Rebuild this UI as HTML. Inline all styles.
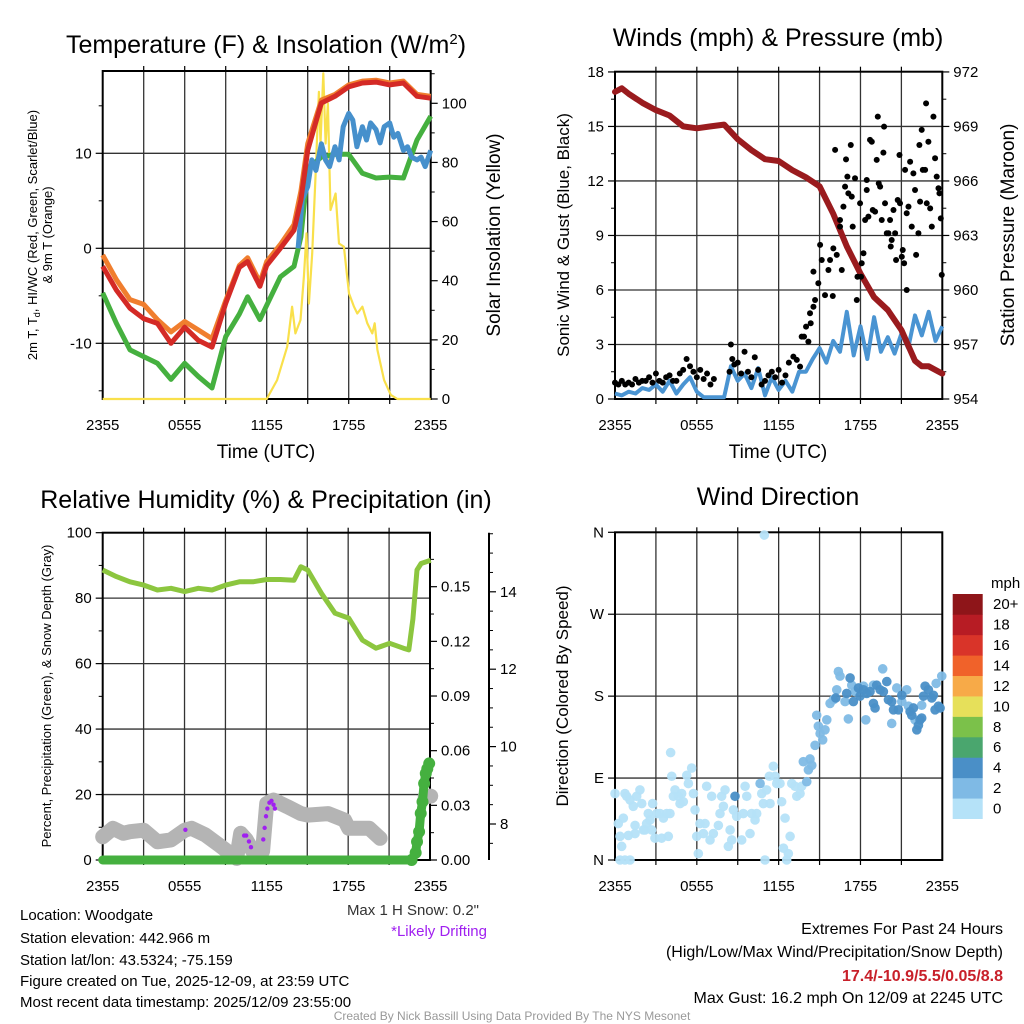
<!DOCTYPE html>
<html><head><meta charset="utf-8"><style>
html,body{margin:0;padding:0;background:#fff;}
svg{display:block;font-family:"Liberation Sans",Arial,sans-serif;}
</style></head><body>
<svg id="chart" width="1024" height="1024" viewBox="0 0 1024 1024" xmlns="http://www.w3.org/2000/svg">
<rect width="1024" height="1024" fill="#fff"/>
<text x="266" y="53" font-size="25" text-anchor="middle">Temperature (F) &amp; Insolation (W/m<tspan dy="-9" font-size="15">2</tspan><tspan dy="9">)</tspan></text>
<text x="778" y="46" font-size="25" text-anchor="middle">Winds (mph) &amp; Pressure (mb)</text>
<text x="266" y="508" font-size="25" text-anchor="middle">Relative Humidity (%) &amp; Precipitation (in)</text>
<text x="778" y="505" font-size="25" text-anchor="middle">Wind Direction</text>
<text x="266" y="458" font-size="19" text-anchor="middle">Time (UTC)</text>
<text x="778" y="458" font-size="19" text-anchor="middle">Time (UTC)</text>
<text transform="translate(37,235) rotate(-90)" font-size="13" text-anchor="middle">2m T, T<tspan font-size="9" dy="3">d</tspan><tspan dy="-3">, HI/WC (Red, Green, Scarlet/Blue)</tspan></text>
<text transform="translate(52,235) rotate(-90)" font-size="13" text-anchor="middle">&amp; 9m T (Orange)</text>
<text transform="translate(500,235) rotate(-90)" font-size="19" text-anchor="middle">Solar Insolation (Yellow)</text>
<text transform="translate(569,235) rotate(-90)" font-size="17" text-anchor="middle">Sonic Wind &amp; Gust (Blue, Black)</text>
<text transform="translate(1014,235) rotate(-90)" font-size="19" text-anchor="middle">Station Pressure (Maroon)</text>
<text transform="translate(51,696) rotate(-90)" font-size="13" text-anchor="middle">Percent, Precipitation (Green), &amp; Snow Depth (Gray)</text>
<text transform="translate(568,696) rotate(-90)" font-size="17" text-anchor="middle">Direction (Colored By Speed)</text>
<text x="479" y="915" font-size="15" fill="#333" text-anchor="end">Max 1 H Snow: 0.2"</text>
<text x="487" y="936" font-size="15" fill="#a020f0" text-anchor="end">*Likely Drifting</text>
<g font-size="15">
<text x="20" y="920">Location: Woodgate</text>
<text x="20" y="943">Station elevation: 442.966 m</text>
<text x="20" y="965">Station lat/lon: 43.5324; -75.159</text>
<text x="20" y="986">Figure created on Tue, 2025-12-09, at 23:59 UTC</text>
<text x="20" y="1007">Most recent data timestamp: 2025/12/09 23:55:00</text>
</g>
<g font-size="16" text-anchor="end">
<text x="1003" y="934">Extremes For Past 24 Hours</text>
<text x="1003" y="957">(High/Low/Max Wind/Precipitation/Snow Depth)</text>
<text x="1003" y="981" fill="#c8202a" font-weight="bold">17.4/-10.9/5.5/0.05/8.8</text>
<text x="1003" y="1003">Max Gust: 16.2 mph On 12/09 at 2245 UTC</text>
</g>
<text x="512" y="1020" font-size="12" fill="#999" text-anchor="middle">Created By Nick Bassill Using Data Provided By The NYS Mesonet</text>
<text x="991" y="588" font-size="15">mph</text>
<g id="layer"></g>
</svg>
<script>
// ---------- data ----------
const xTickHours=[0,6,12,18,24];
const xTickLabels=["2355","0555","1155","1755","2355"];
const tempHours=[0,1,2,3,4,5,6,7,8,9,10,10.6,11.5,12,13,14,14.5,15,15.5,16,17,18,19,20,21,22,23,24];
const tempRed=[-1.9,-4.4,-6.3,-7.4,-7.9,-10.0,-8.3,-9.7,-10.4,-5.8,-2.0,-1.4,-4.0,-1.8,0.0,1.9,5.1,10.3,12.8,15.3,16.0,17.0,17.4,17.5,17.2,17.4,16.0,15.8];
const tempOrange=[-0.7,-3.3,-5.4,-5.9,-7.5,-8.8,-7.7,-8.6,-9.5,-5.5,-1.8,-1.0,-3.6,-1.4,0.4,2.5,6.0,11.0,13.3,15.6,16.2,17.2,17.6,17.7,17.4,17.6,16.2,16.0];
const tempGreen=[-4.7,-7.9,-10.7,-11.4,-12.1,-13.8,-12.1,-13.5,-14.7,-9.3,-6.9,-5.1,-7.5,-6.0,-3.0,-1.9,1.2,8.2,9.0,9.6,9.9,9.9,7.9,7.4,7.5,7.4,11.4,13.9];
const wcHours=[14.3,14.6,15,15.3,15.6,16,16.3,16.6,17,17.3,17.6,18,18.3,18.6,19,19.3,19.6,20,20.3,20.6,21,21.3,21.6,22,22.3,22.6,23,23.3,23.6,24];
const wcBlue=[0.0,5.1,6.5,9.3,8.2,11.0,9.3,8.6,10.7,9.3,12.8,14.2,13.5,10.7,12.8,11.4,13.2,12.5,11.1,12.8,13.2,11.7,12.1,10.3,10.7,9.6,9.3,9.6,8.6,10.3];
const solarHours=[0,12.0,12.76,13.5,13.86,14.1,14.47,14.72,14.91,15.09,15.33,15.57,15.82,15.94,16.14,16.31,16.48,16.67,17.04,17.29,17.65,18.02,18.39,18.63,19.0,19.36,19.73,19.9,20.1,20.59,21.08,21.56,24];
const solarValues=[0,0,6.4,17.7,31.2,22.2,26.7,41.4,56,32.3,49.2,75.2,103.9,86.4,110.1,86.4,99.9,63.9,69.5,52.6,51.5,35.7,31.2,28.9,31.2,25.6,22.2,25.6,16.6,6.4,1.4,0,0];

const presHours=[0,0.5,1,2,3,4,5,6,7,8,9,10,11,12,13,14,15,16,17,18,19,20,21,22,22.5,23,24];
const presValues=[970.9,971.1,970.8,970.3,969.9,969.6,969.0,968.9,969.0,969.1,968.3,967.7,967.2,967.1,966.6,966.2,965.7,964.2,962.4,960.9,959.6,958.9,957.8,956.1,955.8,955.8,955.4];
const sonicHours=[0,0.5,1,1.5,2,2.5,3,3.5,4,4.5,5,5.5,6,6.5,7,7.5,8,8.5,9,9.5,10,10.5,11,11.5,12,12.5,13,13.5,14,14.5,15,15.5,16,16.5,17,17.5,18,18.5,19,19.5,20,20.5,21,21.5,22,22.5,23,23.5,24];
const sonicValues=[0.3,0.2,0.4,0.3,0.6,0.5,0.8,0.4,1.0,0.3,0.8,1.2,0.4,0.1,0.1,0.1,0.1,1.8,1.0,1.4,0.6,1.7,0.2,1.2,0.5,1.0,0.4,1.5,1.5,2.2,2.8,2.0,3.2,2.6,4.8,2.4,4.0,2.2,4.5,2.6,3.4,2.5,3.6,2.8,4.6,3.5,4.8,3.2,4.0];
const gustHours=[0,0.25,0.5,0.75,1,1.25,1.5,1.75,2,2.25,2.5,2.75,3,3.25,3.5,3.75,4,4.25,4.5,4.75,5,5.25,5.5,5.75,6,6.25,6.5,6.75,7,7.25,8.4,8.5,8.6,8.75,9,9.25,9.5,9.75,10,10.25,10.5,10.75,11,11.25,11.5,11.75,12,12.25,12.5,12.75,
13.08,13.33,13.57,13.69,13.86,14.01,14.18,14.30,14.35,14.55,14.67,14.55,14.91,15.04,15.16,15.40,15.65,15.77,15.97,16.01,16.14,16.26,16.50,16.50,16.63,16.75,16.87,16.94,17.04,17.11,17.29,17.36,17.43,17.60,17.73,17.78,17.97,18.04,18.09,18.22,18.34,18.46,18.46,18.58,18.70,18.83,18.90,19.07,19.19,19.27,19.34,19.44,19.56,19.68,19.73,19.80,19.93,20.05,20.17,20.22,20.29,20.42,20.54,20.61,20.73,20.86,20.90,21.03,21.10,21.20,21.27,21.39,21.39,21.52,21.64,21.76,21.88,22.00,22.08,22.25,22.32,22.37,22.49,22.57,22.74,22.81,22.86,22.98,23.11,23.23,23.35,23.47,23.59,23.72,23.79,23.89,23.96];
const gustValues=[0.9,0.8,1.0,0.8,0.9,0.8,1.1,0.9,1.0,1.0,1.2,0.9,1.4,1.0,0.9,1.2,1.3,1.0,1.0,1.4,1.6,2.2,1.8,1.5,1.2,1.6,1.1,1.4,0.8,1.1,1.5,3.0,2.2,1.9,2.0,1.4,2.6,1.5,1.2,2.3,1.6,0.8,1.0,1.3,1.5,1.2,1.6,0.9,1.3,2.0,
2.33,2.15,1.78,3.43,3.43,3.98,3.16,4.72,4.17,5.08,5.45,7.01,6.37,8.48,7.65,5.72,7.10,7.65,5.67,8.29,13.71,7.93,9.85,9.49,7.10,10.59,11.69,13.19,12.24,11.32,13.98,11.14,9.49,12.15,5.45,6.73,10.77,6.73,7.47,8.02,9.85,11.50,12.05,10.04,14.26,14.16,10.40,10.31,13.16,15.54,11.87,11.69,9.85,13.56,14.99,10.77,9.12,9.12,9.85,8.39,8.75,10.40,9.12,7.65,10.95,13.43,10.77,7.83,8.20,7.47,12.61,6.00,10.22,10.59,13.06,9.49,12.42,11.50,7.93,9.12,13.98,10.86,14.81,12.61,12.61,16.27,10.77,14.16,10.49,9.49,15.54,13.25,12.24,11.60,11.32,9.94,6.83];

const rhHours=[0,1,2,3,4,5,6,7,8,9,10,11,12,13,14,14.5,15,16,17,18,19,20,21,22,22.4,22.7,23,23.3,24];
const rhValues=[88.6,86.6,85.0,84.0,82.5,83.0,82.0,83.0,82.5,84.0,85.0,85.0,85.7,85.7,85.5,89.6,88.6,81.5,75.4,73.9,67.2,64.7,66.2,64.7,64.2,73.6,88.6,90.6,91.6];
const snowHours=[0,0.75,1.5,2,3,4,5,6,6.5,7.5,8.5,9.8,10.1,10.5,11,11.7,12,12.5,13.5,14.5,15,16.5,17.7,18,19.5,20.3,null,23.6,24];
const snowValues=[7.67,7.89,7.76,7.8,7.84,7.54,7.59,7.84,7.89,7.72,7.46,7.11,7.76,7.6,7.29,7.3,8.53,8.62,8.45,8.27,8.23,8.27,8.1,7.89,7.89,7.63,null,8.7,8.72];
const driftHours=[6.05,10.35,10.5,10.7,10.85,11.75,11.85,11.95,12.05,12.2,12.35,12.5,12.6];
const driftValues=[7.85,7.7,7.7,7.55,7.4,7.6,7.9,8.2,8.4,8.55,8.6,8.5,8.4];
const precipHours=[0,2,4,6,8,10,12,14,16,18,20,22,22.6,22.9,23.0,23.15,23.27,23.4,23.52,23.64,23.75,23.89];
const precipValues=[0,0,0,0,0,0,0,0,0,0,0,0,0,0.004,0.01,0.0155,0.0256,0.032,0.042,0.0475,0.05,0.053];

const dirHours=[0,.24,.37,.49,.61,.73,.86,.98,1.1,1.34,1.47,1.47,1.59,1.83,1.96,2.08,2.2,2.32,2.44,2.57,2.69,2.76,2.93,3.06,3.3,3.42,3.55,3.79,3.91,4.03,4.08,4.16,4.28,4.4,4.65,4.77,4.89,5.01,5.26,5.38,5.62,5.75,5.87,5.99,6.11,6.23,6.48,6.6,6.72,6.97,7.09,7.21,7.58,7.7,7.82,7.95,8.07,8.31,8.44,8.56,8.68,8.92,9.29,9.41,9.54,9.66,9.9,10.02,10.27,10.39,10.76,10.88,11,11.12,11.32,11.37,11.61,11.74,11.86,12.1,12.22,12.35,12.47,12.59,12.71,12.84,12.96,13.2,13.33,13.57,13.69,.37,.73,1.1,10.95,
10.64,13.81,14.06,14.18,14.3,14.43,14.67,14.79,14.91,15.04,15.23,15.4,15.53,15.77,16.01,16.26,16.38,16.5,16.87,17.11,17.36,17.6,18.22,18.39,18.95,19.63,20.29,20.66,21.03,21.39,21.52,22.0,22.49,23.55,23.96,
8.8,16.19,16.99,17.24,17.48,17.85,17.97,18.22,18.46,18.7,18.95,19.07,19.19,19.44,19.68,19.93,20.05,20.29,20.42,20.78,21.03,21.64,21.76,21.88,22.13,22.25,22.37,22.49,22.62,22.74,22.98,23.23,23.35,23.47,23.72,23.84];
const dirDegrees=[73,40,26,15,46,73,70,27,66,59,38,29,70,77,62,33,33,40,51,44,33,62,24,51,51,24,46,51,26,51,118,92,70,77,70,62,73,64,93,84,101,73,55,26,7,40,29,40,81,22,70,29,38,51,70,59,77,15,33,22,55,48,22,51,81,70,29,51,44,51,73,62,0,77,92,62,103,92,84,84,64,13,46,0,7,26,84,81,70,73,81,0,0,0,357,
84,108,86,99,111,104,126,159,147,139,132,143,154,172,176,187,207,202,174,155,192,185,191,154,192,210,150,189,174,187,169,154,170,194,202,
70,178,183,200,174,189,180,187,183,185,172,167,192,187,185,196,176,174,165,165,181,163,159,167,143,148,154,156,180,191,187,178,181,165,169,167];
const dirSpeeds=[1,1,1,1,1,1,1,1,1,1,1,1,1,1,1,1,1,1,1,1,1,1,1,1,1,1,1,1,1,1,1,1,1,1,1,1,1,1,1,1,1,1,1,1,1,1,1,1,1,1,1,1,1,1,1,1,1,1,1,1,1,1,1,1,1,1,1,1,1,1,1,1,1,1,1,1,1,1,1,1,1,1,1,1,1,1,1,1,1,1,1,1,1,1,1,
3,3,3,3,3,3,3,3,3,3,3,3,3,3,3,3,3,3,3,3,3,3,3,3,3,3,3,3,3,3,3,3,3,3,3,
5,5,5,5,5,5,5,5,5,5,5,5,5,5,5,5,5,5,5,5,5,5,5,5,5,5,5,5,5,5,5,5,5,5,5,5];
const speedBinLabels=["0","2","4","6","8","10","12","14","16","18","20+"];
const speedBinColors=["#b5e2f8","#7fbae5","#4a8fc7","#4aa66e","#7bc14a","#e6e05a","#f7aa48","#f0622a","#d93429","#b71c24","#8e1519"];

// ---------- scales ----------
const NS="http://www.w3.org/2000/svg";
const layer=document.getElementById('layer');
function mk(tag,attrs,parent){const e=document.createElementNS(NS,tag);for(const k in attrs)e.setAttribute(k,attrs[k]);(parent||layer).appendChild(e);return e;}
const L1=102.7,R1=430.7,L2=615,R2=942.3;
const hx1=h=>L1+h*(R1-L1)/24;
const hx2=h=>L2+h*(R2-L2)/24;
const yTemp=v=>248.3-v*9.5;
const ySolar=v=>399-v*2.957;
const yWind=v=>399-v*18.17;
const yPres=p=>399-(p-954)*18.17;
const yRH=v=>860-v*3.273;
const yPrecip=v=>860-v*1822;
const ySnow=v=>824-(v-8)*38.7;
const yDir=d=>860-d*(327.7/360);

function pathD(ts,vs,xf,yf){let d="",pen=false;for(let i=0;i<ts.length;i++){if(ts[i]===null||vs[i]===null){pen=false;continue;}d+=(pen?"L":"M")+xf(ts[i]).toFixed(1)+" "+yf(vs[i]).toFixed(1);pen=true;}return d;}

// ---------- frames / grids ----------
function panel(name,L,R,T,B,vGrid,hGridYs){
  const g=mk('g',{});
  
  
  for(const h of vGrid){const x=L+h*(R-L)/24;mk('line',{x1:x,y1:T,x2:x,y2:B,stroke:'#333','stroke-width':1.3},g);}
  for(const y of hGridYs){mk('line',{x1:L,y1:y,x2:R,y2:y,stroke:'#333','stroke-width':1.3},g);}
  for(const h of vGrid){const x=L+h*(R-L)/24;mk('line',{x1:x,y1:B,x2:x,y2:B+5,stroke:'#000','stroke-width':1.2},g);mk('line',{x1:x,y1:T,x2:x,y2:T-5,stroke:'#000','stroke-width':1.2},g);}
  const f=mk('rect',{x:L,y:T,width:R-L,height:B-T,fill:'none',stroke:'#000','stroke-width':2});
  
  
}
function xLabels(xf,y){for(let i=0;i<xTickHours.length;i++){const t=mk('text',{x:xf(xTickHours[i]),y:y,'font-size':15,'text-anchor':'middle'});t.textContent=xTickLabels[i];

}}
function yTicks(vals,yf,x,side,labels,minor){
  for(let i=0;i<vals.length;i++){const y=yf(vals[i]);mk('line',{x1:x,y1:y,x2:x+side*7,y2:y,stroke:'#000','stroke-width':1.2});
  if(labels){const t=mk('text',{x:x+side*11,y:y+5,'font-size':15,'text-anchor':side<0?'end':'start'});t.textContent=labels[i];
  
  }}
  if(minor)for(const v of minor){const y=yf(v);mk('line',{x1:x,y1:y,x2:x+side*4,y2:y,stroke:'#000','stroke-width':1});}
}
const vg=[3,6,9,12,15,18,21];
panel('temp-panel',L1,R1,71,399,vg,[yTemp(-10),yTemp(0),yTemp(10)]);
panel('wind-panel',L2,R2,71.7,399,vg,[3,6,9,12,15].map(yWind));
panel('rh-panel',L1,430,532.7,860,vg,[20,40,60,80].map(yRH));
panel('dir-panel',L2,R2,532.3,860,vg,[90,180,270].map(yDir));
xLabels(hx1,430);xLabels(hx2,430);xLabels(hx1,891);xLabels(hx2,891);
yTicks([-10,0,10],yTemp,L1,-1,["-10","0","10"],[-15,-5,5,15]);
yTicks([0,20,40,60,80,100],ySolar,R1,1,["0","20","40","60","80","100"],[10,30,50,70,90,110]);
yTicks([0,3,6,9,12,15,18],yWind,L2,-1,["0","3","6","9","12","15","18"],[1.5,4.5,7.5,10.5,13.5,16.5]);
yTicks([954,957,960,963,966,969,972],yPres,R2,1,["954","957","960","963","966","969","972"],[955.5,958.5,961.5,964.5,967.5,970.5]);
yTicks([0,20,40,60,80,100],yRH,L1,-1,["0","20","40","60","80","100"],[10,30,50,70,90]);
yTicks([0,0.03,0.06,0.09,0.12,0.15],yPrecip,430,1,["0.00","0.03","0.06","0.09","0.12","0.15"],[0.015,0.045,0.075,0.105,0.135,0.165]);
const sAx=mk('line',{x1:489,y1:532.7,x2:489,y2:860,stroke:'#000','stroke-width':2});


yTicks([8,10,12,14],ySnow,489,1,["8","10","12","14"],[7.5,8.5,9,9.5,10.5,11,11.5,12.5,13,13.5,14.5,15,15.5]);
yTicks([0,90,180,270,360],yDir,L2,-1,["N","E","S","W","N"],null);

// ---------- panel 1 series ----------
const sol=mk('path',{d:pathD(solarHours,solarValues,hx1,ySolar),fill:'none',stroke:'#f9e04b','stroke-width':2.2,'stroke-linejoin':'round'});


const tg=mk('path',{d:pathD(tempHours,tempGreen,hx1,yTemp),fill:'none',stroke:'#45b03f','stroke-width':5,'stroke-linejoin':'round'});


const to=mk('path',{d:pathD(tempHours,tempOrange,hx1,yTemp),fill:'none',stroke:'#f07e2e','stroke-width':5,'stroke-linejoin':'round'});


const tb=mk('path',{d:pathD(wcHours,wcBlue,hx1,yTemp),fill:'none',stroke:'#4690cc','stroke-width':5,'stroke-linejoin':'round'});


const tr=mk('path',{d:pathD(tempHours,tempRed,hx1,yTemp),fill:'none',stroke:'#d42a26','stroke-width':5,'stroke-linejoin':'round'});



// ---------- panel 2 series ----------
const sw=mk('path',{d:pathD(sonicHours,sonicValues,hx2,yWind),fill:'none',stroke:'#4a94d2','stroke-width':4,'stroke-linejoin':'round'});


const pr=mk('path',{d:pathD(presHours,presValues,hx2,yPres),fill:'none',stroke:'#9a1b1e','stroke-width':6,'stroke-linejoin':'round','stroke-linecap':'round'});


for(let i=0;i<gustHours.length;i++){
  const c=mk('circle',{cx:hx2(gustHours[i]),cy:yWind(gustValues[i]),r:3,fill:'#000'});
  
  
}

// ---------- panel 3 series ----------
const sn=mk('path',{d:pathD(snowHours,snowValues,hx1,ySnow),fill:'none',stroke:'#b4b4b4','stroke-width':15,'stroke-linejoin':'round','stroke-linecap':'round'});


const pl=mk('path',{d:pathD(precipHours,precipValues,hx1,yPrecip),fill:'none',stroke:'#45b03f','stroke-width':9,'stroke-linejoin':'round','stroke-linecap':'round'});


for(let i=12;i<precipHours.length;i++){
  const c=mk('circle',{cx:hx1(precipHours[i]),cy:yPrecip(precipValues[i]),r:6,fill:'#45b03f'});
  
  
}
for(let i=0;i<driftHours.length;i++){
  const c=mk('circle',{cx:hx1(driftHours[i]),cy:ySnow(driftValues[i]),r:2.2,fill:'#a020f0'});
  
  
}
const rh=mk('path',{d:pathD(rhHours,rhValues,hx1,yRH),fill:'none',stroke:'#8cc63f','stroke-width':5,'stroke-linejoin':'round'});



// ---------- panel 4 ----------
for(let i=0;i<dirHours.length;i++){
  const b=Math.min(10,Math.floor(dirSpeeds[i]/2));
  const c=mk('circle',{cx:hx2(dirHours[i]),cy:yDir(dirDegrees[i]),r:4.8,fill:speedBinColors[b],'fill-opacity':0.95});
  
  
}
const binH=(818.7-594)/11;
for(let i=0;i<11;i++){
  const y=818.7-(i+1)*binH;
  const r=mk('rect',{x:952.7,y:y,width:30,height:binH+0.3,fill:speedBinColors[i]});
  
  
  const t=mk('text',{x:993,y:y+binH/2+5,'font-size':15});
  t.textContent=speedBinLabels[i];
  
  
}
</script>
</body></html>
